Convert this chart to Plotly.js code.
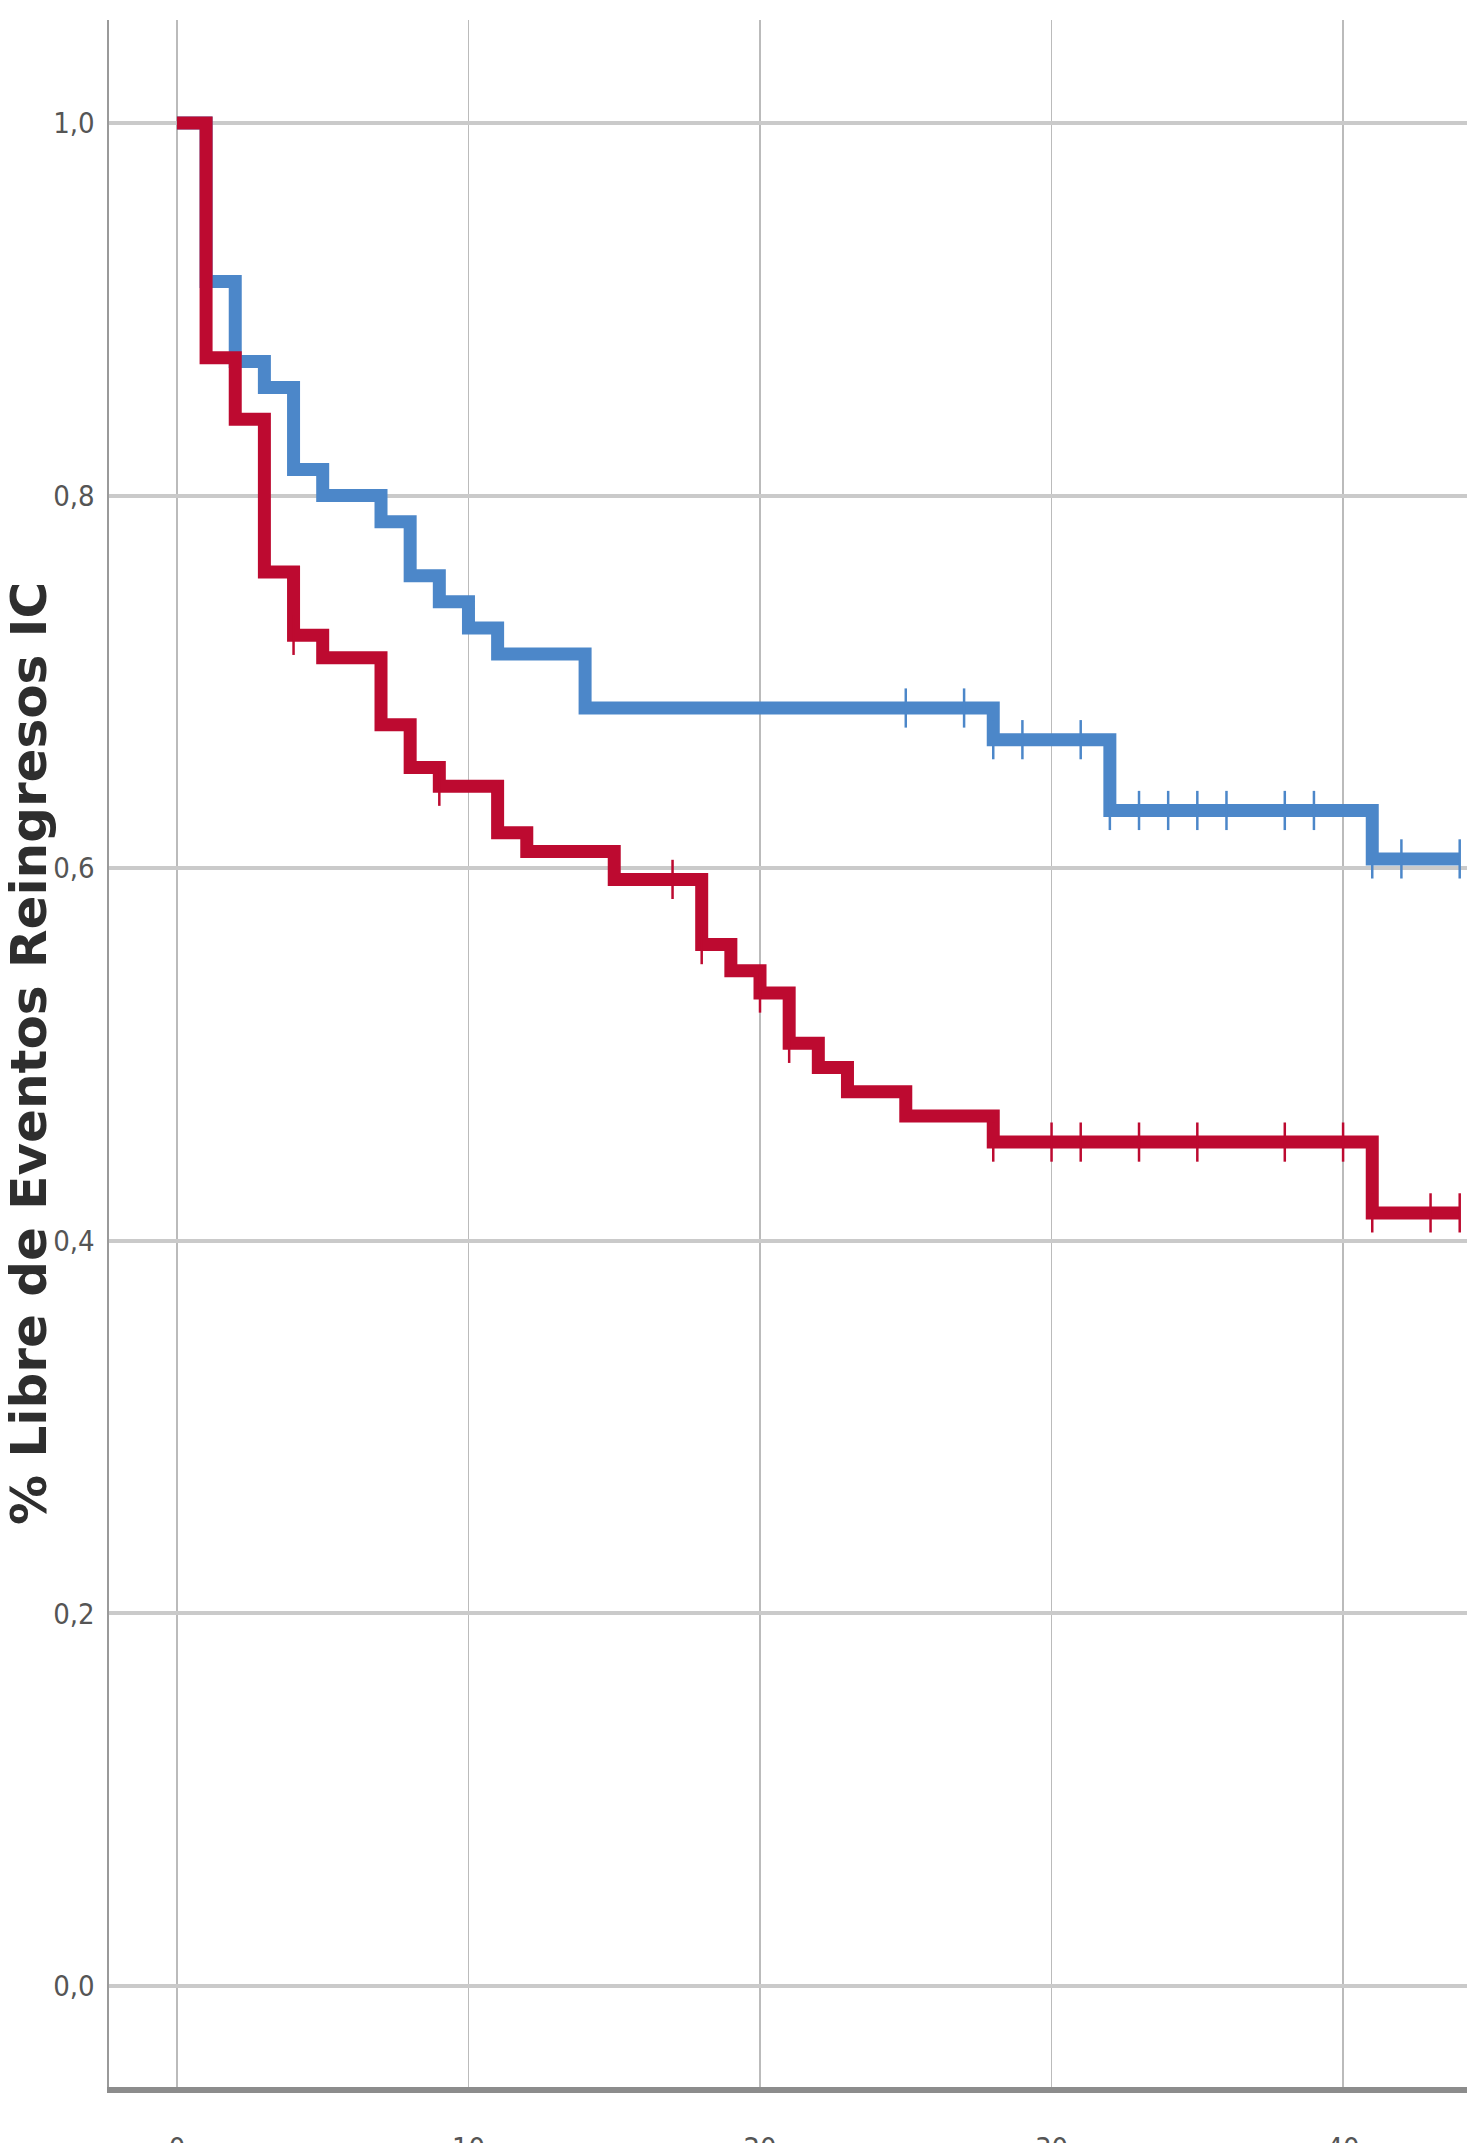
<!DOCTYPE html>
<html>
<head>
<meta charset="utf-8">
<script src="https://cdn.plot.ly/plotly-3.0.1.min.js"></script>
<style>html,body{margin:0;padding:0;background:#fff;}</style>
</head>
<body>
<div id="chart" style="width:1471px;height:2143px;"></div>
<script>
// Kaplan-Meier step data (months vs survival free of readmission)
const blueTimes = [0, 1, 2, 3, 4, 5, 7, 8, 9, 10, 11, 14, 28, 32, 41, 44];
const blueSurv  = [1.0, 0.915, 0.872, 0.858, 0.814, 0.800, 0.786, 0.757, 0.743, 0.729, 0.715, 0.686, 0.669, 0.631, 0.605, 0.605];
const blueCensor = [25, 27, 28, 29, 31, 32, 33, 34, 35, 36, 38, 39, 41, 42, 44];

const redTimes = [0, 1, 2, 3, 4, 5, 7, 8, 9, 11, 12, 15, 18, 19, 20, 21, 22, 23, 25, 28, 41, 44];
const redSurv  = [1.0, 0.874, 0.841, 0.759, 0.725, 0.713, 0.677, 0.654, 0.644, 0.619, 0.609, 0.594, 0.559, 0.545, 0.533, 0.506, 0.493, 0.480, 0.467, 0.453, 0.415, 0.415];
const redCensor = [4, 9, 17, 18, 20, 21, 28, 30, 31, 33, 35, 38, 40, 41, 43, 44];

const xTickVals = [0, 10, 20, 30, 40];
const yTickVals = [0, 0.2, 0.4, 0.6, 0.8, 1.0];
const yTitle = "% Libre de Eventos Reingresos IC";

const blueColor = "#4C87C9";
const redColor = "#BD0A30";

function stepAt(times, surv, t) {
  let v = surv[0];
  for (let i = 0; i < times.length; i++) { if (times[i] <= t) v = surv[i]; }
  return v;
}

const traces = [
  {x: blueTimes, y: blueSurv, type: "scatter", mode: "lines",
   line: {shape: "hv", color: blueColor, width: 13}, hoverinfo: "skip"},
  {x: blueCensor, y: blueCensor.map(t => stepAt(blueTimes, blueSurv, t)), type: "scatter", mode: "markers",
   marker: {symbol: "line-ns", size: 28, line: {color: blueColor, width: 2.5}}, hoverinfo: "skip"},
  {x: redTimes, y: redSurv, type: "scatter", mode: "lines",
   line: {shape: "hv", color: redColor, width: 13}, hoverinfo: "skip"},
  {x: redCensor, y: redCensor.map(t => stepAt(redTimes, redSurv, t)), type: "scatter", mode: "markers",
   marker: {symbol: "line-ns", size: 28, line: {color: redColor, width: 2.5}}, hoverinfo: "skip"}
];

const tickFont = {family: "DejaVu Sans Condensed, Liberation Sans Narrow, Liberation Sans, sans-serif", size: 29, color: "#555555"};

const layout = {
  width: 1471, height: 2143,
  margin: {l: 109, r: 4, t: 20, b: 56},
  paper_bgcolor: "#ffffff", plot_bgcolor: "#ffffff",
  showlegend: false,
  separators: ",.",
  xaxis: {
    range: [-2.33, 44.25], tickvals: xTickVals, ticktext: xTickVals.map(String),
    showgrid: true, gridcolor: "#BBBBBB", gridwidth: 1.6, zeroline: false,
    showline: true, linecolor: "#8C8C8C", linewidth: 6,
    ticks: "outside", ticklen: 30, tickcolor: "rgba(0,0,0,0)",
    tickfont: tickFont, fixedrange: true
  },
  yaxis: {
    range: [-0.0542, 1.0553], tickvals: yTickVals, tickformat: ".1f",
    showgrid: true, gridcolor: "#CACACA", gridwidth: 4, zeroline: false,
    showline: true, linecolor: "#9A9A9A", linewidth: 2.5,
    ticks: "outside", ticklen: 6, tickcolor: "rgba(0,0,0,0)",
    tickfont: tickFont, fixedrange: true,
    title: {text: yTitle, standoff: 12,
            font: {family: "DejaVu Sans, Verdana, sans-serif", size: 50, color: "#2E2E2E", weight: "bold"}}
  }
};

Plotly.newPlot("chart", traces, layout, {displayModeBar: false, staticPlot: true});
</script>
</body>
</html>
